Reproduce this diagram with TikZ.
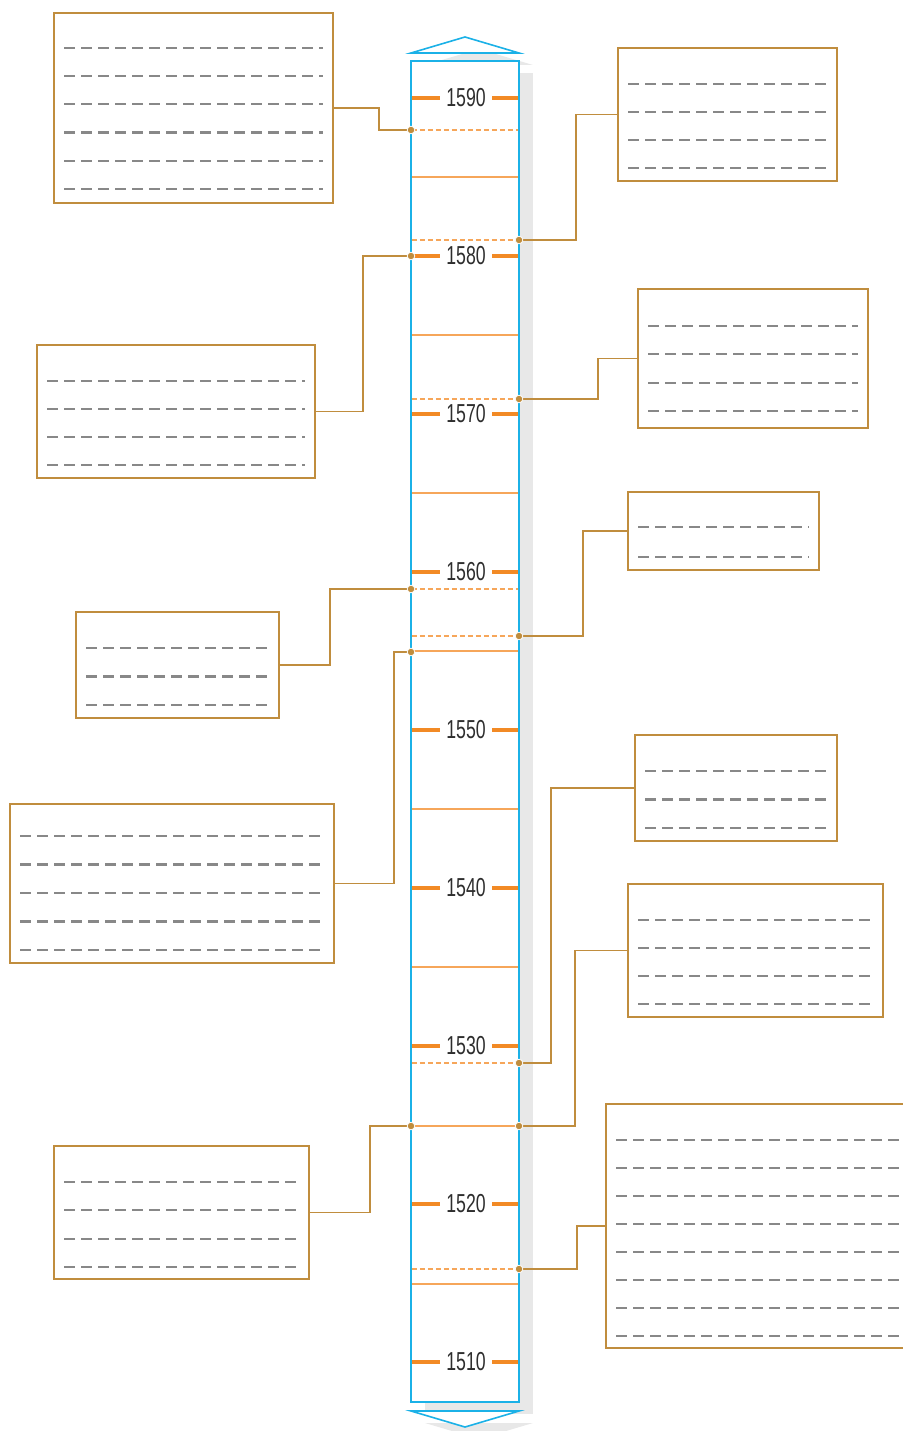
\documentclass[tikz,border=0pt]{standalone}
\usepackage{fontspec}
\setmainfont{Liberation Sans}
\newfontfamily\yearfont[FakeStretch=0.68]{Liberation Sans}
\usetikzlibrary{fit}
\definecolor{cyanline}{HTML}{1BB1E7}
\definecolor{tickcol}{HTML}{F28A25}
\definecolor{ticklight}{HTML}{F6A65A}
\definecolor{conncol}{HTML}{C08D3E}
\definecolor{phgray}{HTML}{888888}
\definecolor{shadowgray}{HTML}{E8E8E8}
\definecolor{yeartext}{HTML}{2E2E2E}
\newcommand\infobox[8]{%
  \node[infobox, fit={(#2,#3) (#4,#5)}] (#1) {};
  \foreach \i in {1,...,#6}{%
    \pgfmathsetmacro\yy{#7+(\i-1)*#8}
    \draw[phline] (#2+10,\yy) -- (#4-10,\yy);
  }%
}
\begin{document}
\begin{tikzpicture}[x=1pt,y=-1pt,
  infobox/.style={draw=conncol, line width=1.5pt, fill=white, inner sep=0pt},
  phline/.style={phgray, line width=2.2pt, dash pattern=on 11pt off 6pt},
  conn/.style={conncol, line width=1.5pt},
  halfline/.style={ticklight, line width=1.5pt},
  eventline/.style={ticklight, line width=1.5pt, dash pattern=on 5pt off 3pt},
  yeartick/.style={tickcol, line width=3.3pt},
  yearlabel/.style={font=\yearfont\fontsize{26}{28}\selectfont, text=yeartext, inner sep=0pt},
  evdot/.style={fill=conncol, draw=white, line width=0.8pt}]
\useasboundingbox (0,0) rectangle (902,1431);
% shadow
\fill[shadowgray] (425,73) rectangle (533,1414);
\fill[shadowgray] (425,65) -- (479,49) -- (533,65) -- cycle;
\fill[shadowgray] (425,1423) -- (479,1439) -- (533,1423) -- cycle;
% column
\draw[cyanline, line width=1.6pt, fill=white] (411,61) rectangle (519,1402);
\draw[cyanline, line width=1.6pt, fill=white] (411,53) -- (465,37) -- (519,53) -- cycle;
\draw[cyanline, line width=1.6pt, fill=white] (411,1411) -- (465,1427) -- (519,1411) -- cycle;
% half-decade lines
\foreach \y in {177,335,493,651,809,967,1126,1284}
  \draw[halfline] (411.8,\y) -- (518.2,\y);
% event coordinates
\coordinate (e1) at (411,130);
\coordinate (e2) at (519,240);
\coordinate (e3) at (411,256);
\coordinate (e4) at (519,399);
\coordinate (e5) at (519,636);
\coordinate (e6) at (411,589);
\coordinate (e7) at (411,652);
\coordinate (e8) at (519,1063);
\coordinate (e9) at (519,1126);
\coordinate (e10) at (411,1126);
\coordinate (e11) at (519,1269);
% event dashed lines
\foreach \y in {130,240,399,589,636,1063,1269}
  \draw[eventline] (411.8,\y) -- (518.2,\y);
% year ticks
\foreach \yr [evaluate=\yr as \yy using {98+(1590-\yr)*15.8}] in {1590,1580,1570,1560,1550,1540,1530,1520,1510}{
  \draw[yeartick] (411.8,\yy) -- (440,\yy);
  \draw[yeartick] (492,\yy) -- (518.2,\yy);
  \node[yearlabel] (y\yr) at (466,\yy) {\yr};
}
% boxes
\infobox{L1}{54}{13}{333}{203}{6}{48}{28.2}
\infobox{R1}{618}{48}{837}{181}{4}{84}{28.1}
\infobox{L2}{37}{345}{315}{478}{4}{381}{28.1}
\infobox{R2}{638}{289}{868}{428}{4}{326}{28.3}
\infobox{R3}{628}{492}{819}{570}{2}{527}{30}
\infobox{L3}{76}{612}{279}{718}{3}{648}{28.5}
\infobox{L4}{10}{804}{334}{963}{5}{836}{28.5}
\infobox{R4}{635}{735}{837}{841}{3}{771}{28.5}
\infobox{R5}{628}{884}{883}{1017}{4}{920}{28}
\infobox{L5}{54}{1146}{309}{1279}{4}{1182}{28.3}
\infobox{R6}{606}{1104}{914}{1348}{8}{1140}{28}
% connectors
\draw[conn] (L1.east) -- ++(45,0) |- (e1);
\draw[conn] (e2) -- ++(57,0) |- (R1.west);
\draw[conn] (L2.east) -- ++(47,0) |- (e3);
\draw[conn] (e4) -- ++(79,0) |- (R2.west);
\draw[conn] (e5) -- ++(64,0) |- (R3.west);
\draw[conn] (L3.east) -- ++(50,0) |- (e6);
\draw[conn] (L4.east) -- ++(59,0) |- (e7);
\draw[conn] (e8) -- ++(32,0) |- (R4.west);
\draw[conn] (e9) -- ++(56,0) |- (R5.west);
\draw[conn] (L5.east) -- ++(60,0) |- (e10);
\draw[conn] (e11) -- ++(58,0) |- (R6.west);
% dots
\foreach \d in {e1,e2,e3,e4,e5,e6,e7,e8,e9,e10,e11}
  \path[evdot] (\d) circle (3.8);
\end{tikzpicture}
\end{document}
